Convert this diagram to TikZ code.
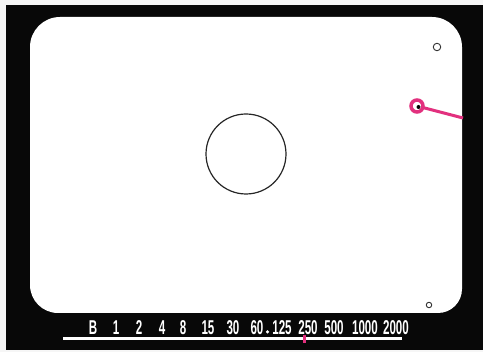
\documentclass[tikz,border=0pt]{standalone}
\usepackage{fontspec}
\usepackage{graphicx}
\setmainfont{Liberation Sans}
\definecolor{pinkc}{HTML}{E2307E}
\definecolor{bgc}{HTML}{F6F6F6}
\definecolor{darkc}{HTML}{080808}
\tikzset{
  scalelbl/.style={text=white, inner sep=0pt, anchor=center, font=\bfseries\fontsize{20}{20}\selectfont},
  smallring/.style={circle, draw=black!80, line width=0.9pt, inner sep=0pt},
}
\newcommand{\cnd}[1]{\scalebox{0.58}[1]{#1}}
\begin{document}
\begin{tikzpicture}[x=1pt,y=-1pt]
\useasboundingbox (0,0) rectangle (483,352);
\fill[bgc] (0,0) rectangle (483,352);
\fill[darkc] (6,5) rectangle (483,350);
% white frame
\fill[white] (60,17) -- (432,17) arc[start angle=90, end angle=0, x radius=30, y radius=-30]
  -- (462,289) arc[start angle=0, end angle=-90, x radius=24, y radius=-24]
  -- (58,313) arc[start angle=270, end angle=180, x radius=28, y radius=-28]
  -- (30,47) arc[start angle=180, end angle=90, x radius=30, y radius=-30] -- cycle;
% central circle
\node[circle, draw=black!85, line width=1.2pt, minimum size=80pt, inner sep=0pt] (ctr) at (246,154) {};
% small rings
\node[smallring, minimum size=7.5pt] (ringA) at (437,47) {};
\node[smallring, minimum size=5.5pt] (ringB) at (429,305) {};
% pointer
\coordinate (ptrend) at (463,118);
\node[circle, inner sep=0pt, minimum size=12pt] (ptrc) at (417,106) {};
\draw[pinkc, line width=3pt] (ptrc.center) -- (ptrend);
\node[circle, draw=pinkc, line width=3.5pt, fill=white, minimum size=12pt, inner sep=0pt] (ptr) at (417,106) {};
\fill[black] (418.5,107) circle (2);
% scale labels
\node[scalelbl] (lB) at (93,328) {\cnd{B}};
\node[scalelbl] (l1) at (116,328) {\cnd{1}};
\node[scalelbl] (l2) at (139,328) {\cnd{2}};
\node[scalelbl] (l4) at (162,328) {\cnd{4}};
\node[scalelbl] (l8) at (183,328) {\cnd{8}};
\node[scalelbl] (l15) at (208,328) {\cnd{15}};
\node[scalelbl] (l30) at (233,328) {\cnd{30}};
\node[scalelbl] (l60) at (257,328) {\cnd{60}};
\node[circle, fill=white, inner sep=0pt, minimum size=3.5pt] (ldot) at (267.5,332) {};
\node[scalelbl] (l125) at (282,328) {\cnd{125}};
\node[scalelbl] (l250) at (308,328) {\cnd{250}};
\node[scalelbl] (l500) at (334,328) {\cnd{500}};
\node[scalelbl] (l1000) at (365,328) {\cnd{1000}};
\node[scalelbl] (l2000) at (396,328) {\cnd{2000}};
% bar
\fill[white] (63,337.5) rectangle (402,340.5);
\fill[pinkc] (302.5,335) rectangle (305.5,343);
\end{tikzpicture}
\end{document}
